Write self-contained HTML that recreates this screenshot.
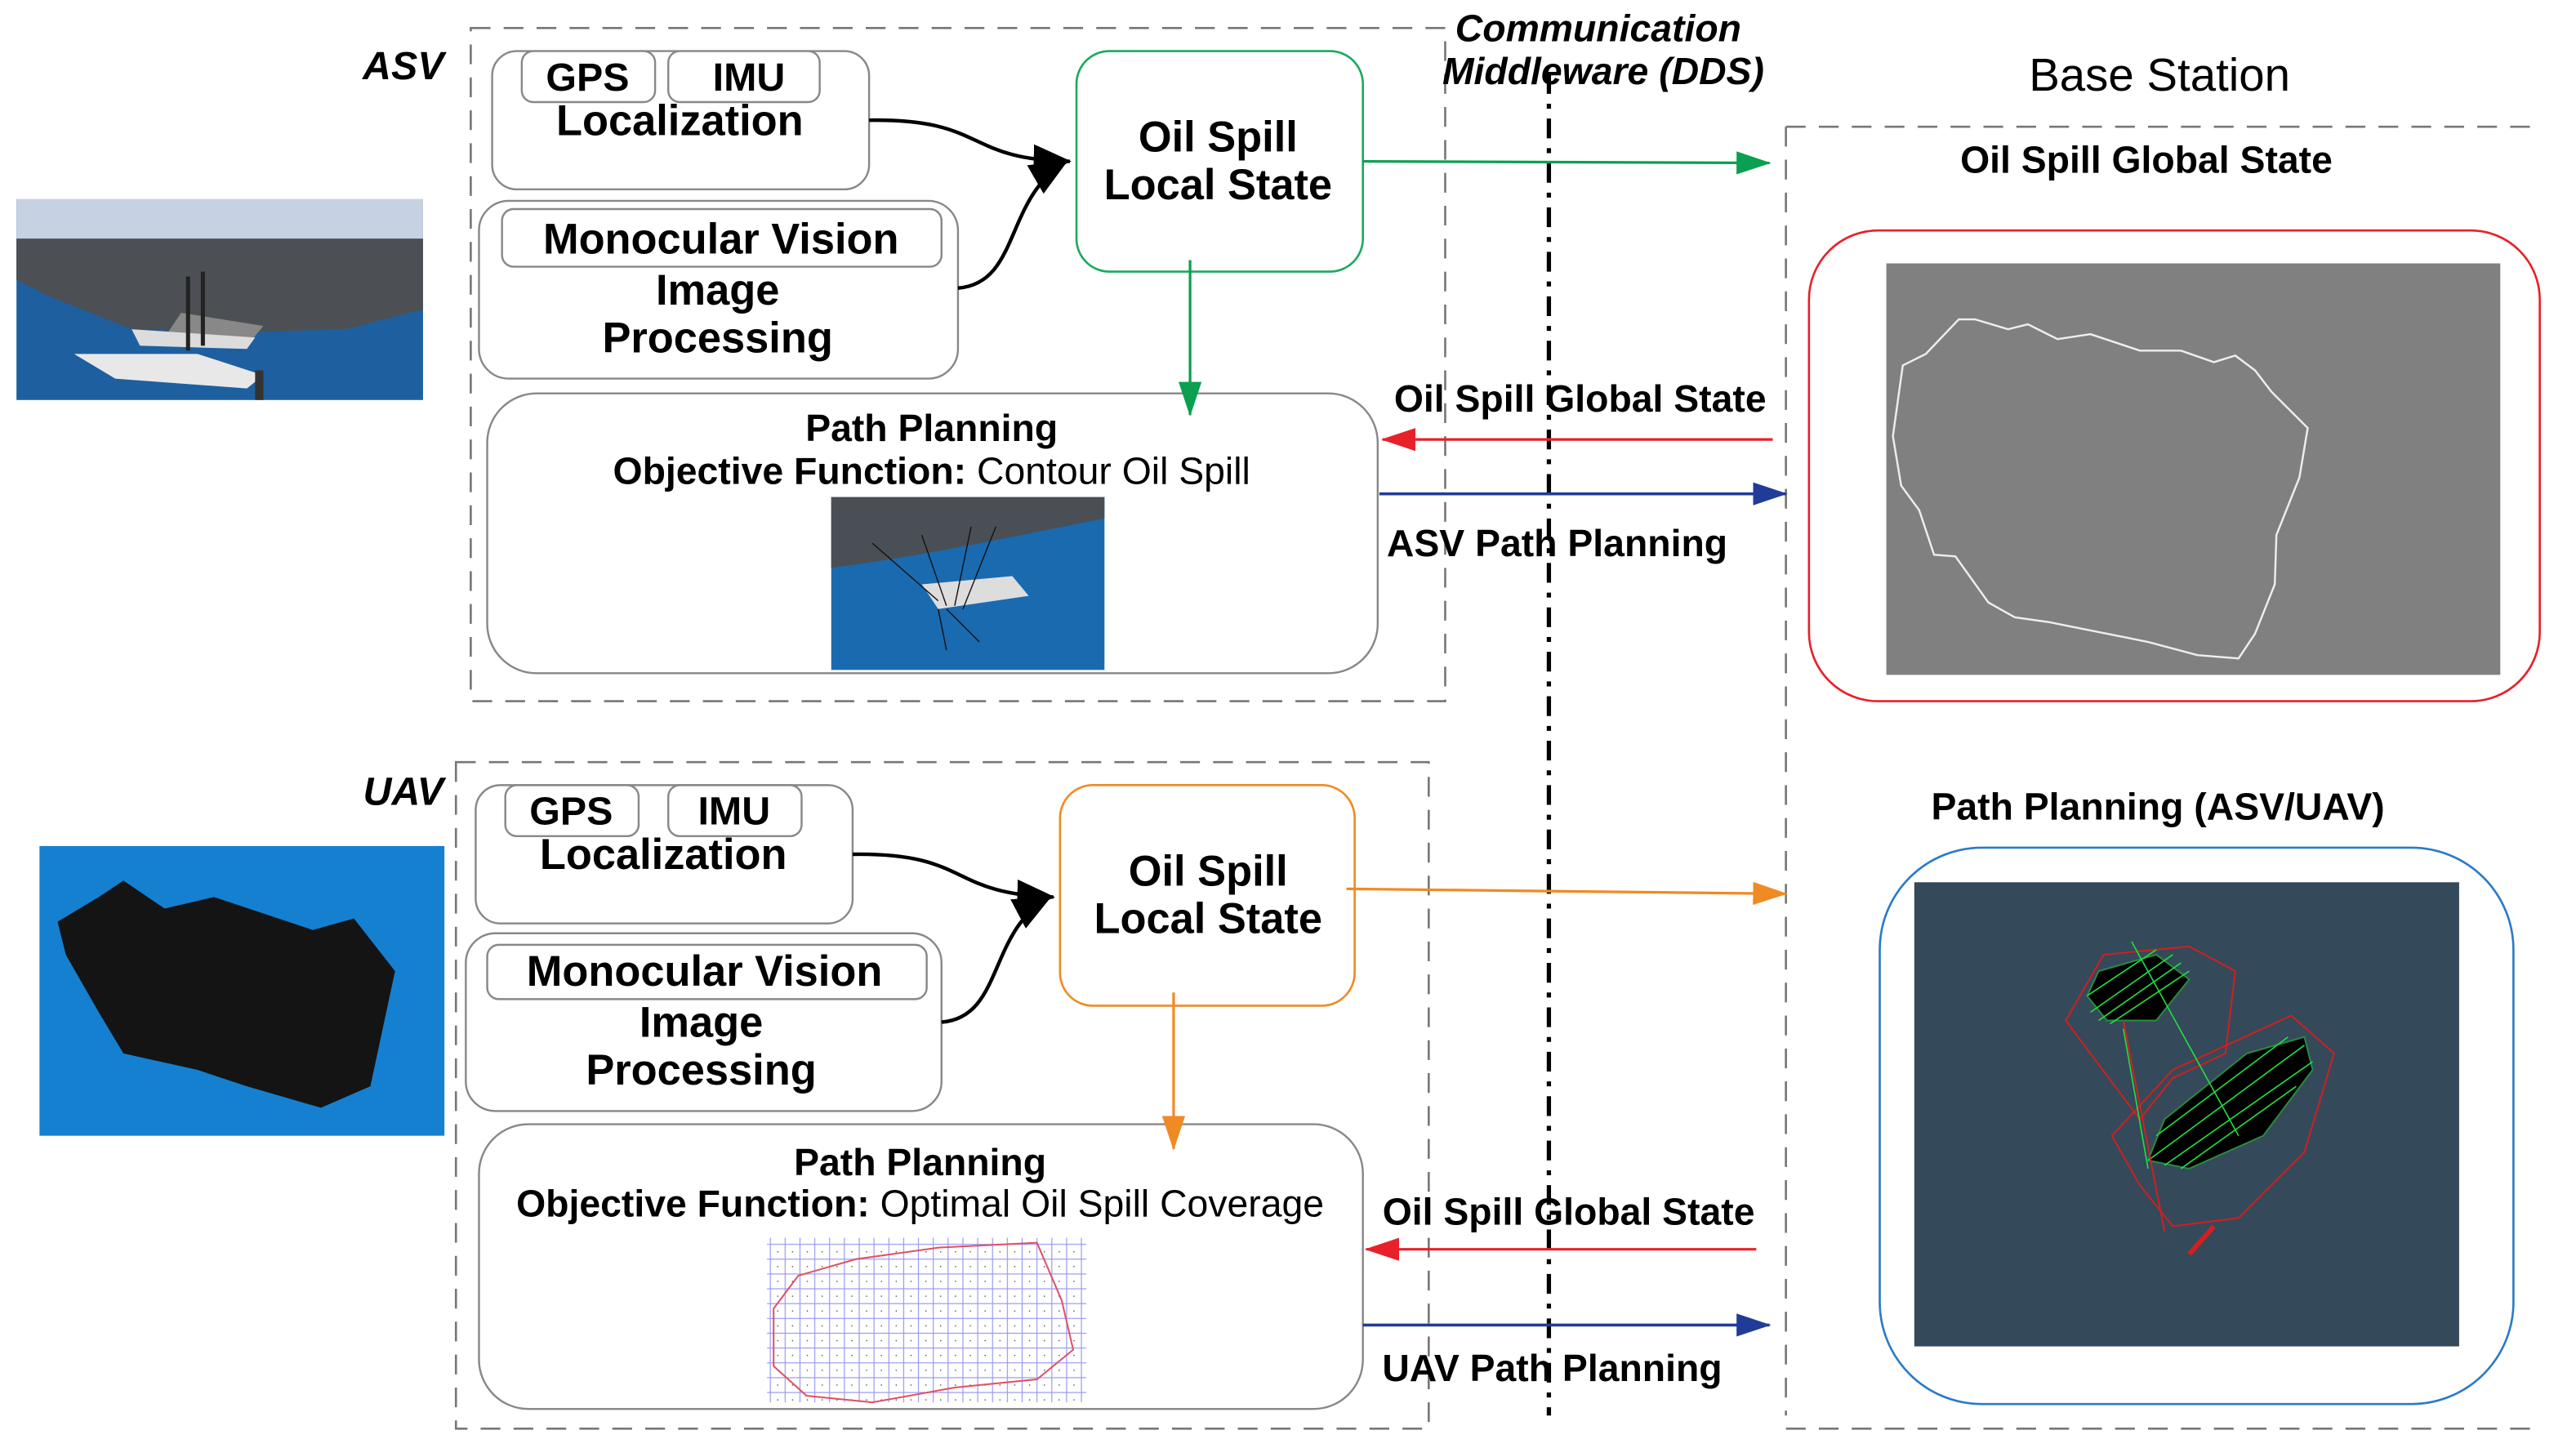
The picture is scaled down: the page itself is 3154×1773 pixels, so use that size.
<!DOCTYPE html>
<html><head><meta charset="utf-8"><style>
html,body{margin:0;padding:0;background:#fff;}
svg{display:block;}
text{font-family:"Liberation Sans",sans-serif;}
</style></head><body>
<svg width="3154" height="1773" viewBox="0 0 1565 879.7" xmlns="http://www.w3.org/2000/svg">
<defs>
<marker id="ag" markerWidth="22" markerHeight="14" refX="20" refY="7" orient="auto" markerUnits="userSpaceOnUse"><path d="M0,0 L21,7 L0,14 z" fill="#0aa050"/></marker>
<marker id="ar" markerWidth="22" markerHeight="14" refX="20" refY="7" orient="auto" markerUnits="userSpaceOnUse"><path d="M0,0 L21,7 L0,14 z" fill="#e8202a"/></marker>
<marker id="abl" markerWidth="22" markerHeight="14" refX="20" refY="7" orient="auto" markerUnits="userSpaceOnUse"><path d="M0,0 L21,7 L0,14 z" fill="#203c98"/></marker>
<marker id="ao" markerWidth="22" markerHeight="14" refX="20" refY="7" orient="auto" markerUnits="userSpaceOnUse"><path d="M0,0 L21,7 L0,14 z" fill="#f08a24"/></marker>
<marker id="ak" markerWidth="24" markerHeight="20" refX="22" refY="10" orient="auto" markerUnits="userSpaceOnUse"><path d="M0,0 L23,10 L0,20 z" fill="#000"/></marker>
<pattern id="grid" width="9" height="9" patternUnits="userSpaceOnUse"><rect width="9" height="9" fill="none" stroke="#9a9af0" stroke-width="0.6"/><circle cx="4.5" cy="4.5" r="0.4" fill="#555"/></pattern>
</defs>

<g fill="none" stroke="#777" stroke-width="1.3" stroke-dasharray="12,8">
<path d="M286,17 H878 V426 H286 Z"/>
<path d="M277,463 H868 V868 H277 Z"/>
<path d="M1085,77 H1545 M1085,868 H1545 M1085,77 V860"/>
</g>
<path d="M941,45 V860" stroke="#000" stroke-width="2.6" stroke-dasharray="12,6,3,6" fill="none"/>

<text x="245" y="48" font-size="24" font-weight="bold" font-style="italic" text-anchor="middle">ASV</text>
<text x="245" y="489" font-size="24" font-weight="bold" font-style="italic" text-anchor="middle">UAV</text>
<text x="971" y="25" font-size="23" font-weight="bold" font-style="italic" text-anchor="middle">Communication</text>
<text x="974" y="51" font-size="23" font-weight="bold" font-style="italic" text-anchor="middle">Middleware (DDS)</text>
<text x="1312" y="55" font-size="28" text-anchor="middle">Base Station</text>
<text x="1304" y="105" font-size="23" font-weight="bold" text-anchor="middle">Oil Spill Global State</text>
<text x="1311" y="498" font-size="23" font-weight="bold" text-anchor="middle">Path Planning (ASV/UAV)</text>

<g fill="#fff" stroke="#888" stroke-width="1.2">
<rect x="299" y="31" width="229" height="84" rx="15"/>
<rect x="317" y="31" width="81" height="31" rx="7"/>
<rect x="406" y="31" width="92" height="31" rx="7"/>
<rect x="291" y="122" width="291" height="108" rx="18"/>
<rect x="305" y="127" width="267" height="35" rx="7"/>
<rect x="296" y="239" width="541" height="170" rx="30"/>
<rect x="289" y="477" width="229" height="84" rx="15"/>
<rect x="307" y="477" width="81" height="31" rx="7"/>
<rect x="406" y="477" width="81" height="31" rx="7"/>
<rect x="283" y="567" width="289" height="108" rx="18"/>
<rect x="296" y="574" width="267" height="33" rx="7"/>
<rect x="291" y="683" width="537" height="173" rx="30"/>
</g>
<rect x="654" y="31" width="174" height="134" rx="20" fill="#fff" stroke="#1aaa60" stroke-width="1.3"/>
<rect x="644" y="477" width="179" height="134" rx="20" fill="#fff" stroke="#f08a24" stroke-width="1.3"/>

<g font-size="26" font-weight="bold" text-anchor="middle">
<text x="357" y="55" font-size="24">GPS</text><text x="455" y="55" font-size="24">IMU</text>
<text x="413" y="82">Localization</text>
<text x="438" y="154">Monocular Vision</text>
<text x="436" y="185">Image</text><text x="436" y="214">Processing</text>
<text x="347" y="501" font-size="24">GPS</text><text x="446" y="501" font-size="24">IMU</text>
<text x="403" y="528">Localization</text>
<text x="428" y="599">Monocular Vision</text>
<text x="426" y="630">Image</text><text x="426" y="659">Processing</text>
<text x="740" y="92">Oil Spill</text><text x="740" y="121">Local State</text>
<text x="734" y="538">Oil Spill</text><text x="734" y="567">Local State</text>
</g>
<g font-size="23" text-anchor="middle">
<text x="566" y="268" font-weight="bold">Path Planning</text>
<text x="566" y="294"><tspan font-weight="bold">Objective Function:</tspan> Contour Oil Spill</text>
<text x="559" y="714" font-weight="bold">Path Planning</text>
<text x="559" y="739"><tspan font-weight="bold">Objective Function:</tspan> Optimal Oil Spill Coverage</text>
</g>

<g fill="none" stroke="#000" stroke-width="2.2">
<path d="M528,73 C600,72 585,97 650,98" marker-end="url(#ak)"/>
<path d="M582,175 C620,172 610,120 648,98" marker-end="url(#ak)"/>
<path d="M518,519 C590,518 575,543 640,545" marker-end="url(#ak)"/>
<path d="M572,621 C610,618 600,565 638,545" marker-end="url(#ak)"/>
</g>
<path d="M828,98 L1075,99" stroke="#0aa050" stroke-width="1.6" marker-end="url(#ag)"/>
<path d="M723,158 L723,252" stroke="#0aa050" stroke-width="1.6" marker-end="url(#ag)"/>
<path d="M1077,267 L840,267" stroke="#e8202a" stroke-width="1.6" marker-end="url(#ar)"/>
<path d="M838,300 L1085,300" stroke="#203c98" stroke-width="1.8" marker-end="url(#abl)"/>
<path d="M818,540 L1085,543" stroke="#f08a24" stroke-width="1.6" marker-end="url(#ao)"/>
<path d="M713,603 L713,698" stroke="#f08a24" stroke-width="1.6" marker-end="url(#ao)"/>
<path d="M1067,759 L830,759" stroke="#e8202a" stroke-width="1.6" marker-end="url(#ar)"/>
<path d="M828,805 L1075,805" stroke="#203c98" stroke-width="1.8" marker-end="url(#abl)"/>
<g font-size="23" font-weight="bold" text-anchor="middle">
<text x="960" y="250">Oil Spill Global State</text>
<text x="946" y="338">ASV Path Planning</text>
<text x="953" y="744">Oil Spill Global State</text>
<text x="943" y="839">UAV Path Planning</text>
</g>

<rect x="1099" y="140" width="444" height="286" rx="42" fill="#fff" stroke="#e8202a" stroke-width="1.3"/>
<rect x="1146" y="160" width="373" height="250" fill="#808080"/>
<path d="M1156,222 L1170,215 L1190,194 L1200,194 L1220,200 L1232,197 L1250,206 L1270,203 L1300,213 L1325,213 L1345,220 L1358,216 L1370,225 L1380,238 L1402,260 L1397,290 L1383,325 L1382,355 L1370,385 L1360,400 L1335,398 L1305,390 L1290,387 L1265,382 L1245,378 L1224,375 L1208,366 L1188,338 L1175,337 L1170,322 L1166,310 L1155,295 L1150,265 Z" fill="none" stroke="#eee" stroke-width="1.2"/>
<rect x="1142" y="515" width="385" height="338" rx="62" fill="#fff" stroke="#2a7ac8" stroke-width="1.3"/>
<rect x="1163" y="536" width="331" height="282" fill="#34495a"/>
<path d="M1278,580 L1330,575 L1358,590 L1352,640 L1320,655 L1300,680 L1285,660 L1255,620 Z" fill="none" stroke="#d02020" stroke-width="1"/>
<path d="M1283,690 L1320,650 L1392,617 L1418,640 L1400,700 L1360,740 L1320,745 L1300,720 Z" fill="none" stroke="#d02020" stroke-width="1"/>
<path d="M1275,590 L1310,580 L1330,595 L1310,620 L1280,620 L1268,605 Z" fill="#000" stroke="#2a8a40"/>
<path d="M1315,680 L1365,640 L1400,630 L1405,650 L1375,690 L1330,710 L1305,705 Z" fill="#000" stroke="#2a8a40"/>
<g stroke="#20e040" stroke-width="0.8"><path d="M1270,615 L1320,580 M1275,620 L1325,585 M1282,622 L1330,590 M1268,605 L1310,577"/><path d="M1305,705 L1400,635 M1315,708 L1405,645 M1325,710 L1395,660 M1310,690 L1390,630"/><path d="M1295,572 L1360,690 M1290,625 L1305,710"/></g>
<path d="M1290,620 L1315,748" stroke="#d02020" stroke-width="1"/>
<path d="M1330,762 L1345,745" stroke="#d02020" stroke-width="3"/>

<!-- ASV boat image -->
<rect x="10" y="121" width="247" height="122" fill="#1e5fa0"/>
<rect x="10" y="121" width="247" height="24" fill="#c6d2e2"/>
<path d="M10,145 H257 V188 L210,200 L140,202 L80,200 L30,180 L10,170 Z" fill="#4c4f54"/>
<path d="M110,190 L160,198 L150,210 L100,205 Z" fill="#888"/>
<path d="M45,215 L120,215 L160,228 L150,236 L70,230 Z" fill="#e8e8e8"/>
<path d="M80,200 L155,205 L150,212 L85,210 Z" fill="#dcdcdc"/>
<rect x="113" y="168" width="2.5" height="45" fill="#222"/>
<rect x="122" y="165" width="2.5" height="45" fill="#222"/>
<rect x="155" y="225" width="5" height="18" fill="#333"/>

<rect x="24" y="514" width="246" height="176" fill="#1580d0"/>
<path d="M60,545 L75,535 L100,552 L130,545 L190,565 L215,558 L240,590 L225,660 L195,673 L150,660 L120,650 L75,640 L60,615 L40,580 L35,560 Z" fill="#141414"/>
<rect x="505" y="302" width="166" height="105" fill="#1a6ab0"/>
<path d="M505,302 H671 V315 C620,325 560,338 505,345 Z" fill="#4a4f55"/>
<path d="M560,355 L615,350 L625,362 L570,370 Z" fill="#ddd"/>
<g stroke="#111" stroke-width="0.7"><path d="M570,365 L530,330 M575,368 L560,325 M580,368 L590,320 M585,370 L605,320 M570,370 L575,395 M575,370 L595,390"/></g>
<rect x="466" y="752" width="194" height="100" fill="url(#grid)"/>
<path d="M470,795 L485,775 L520,765 L570,758 L630,755 L645,790 L652,820 L630,838 L580,843 L530,852 L490,848 L470,830 Z" fill="none" stroke="#e05060" stroke-width="1"/>
</svg>
</body></html>
